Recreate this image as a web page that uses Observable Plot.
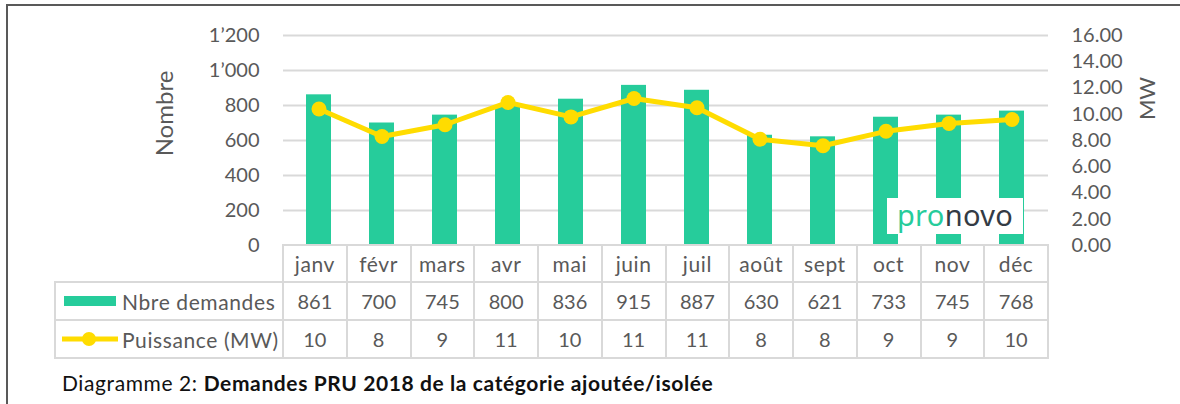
<!DOCTYPE html>
<html>
<head>
<meta charset="utf-8">
<script src="https://cdn.jsdelivr.net/npm/d3@7"></script>
<script src="https://cdn.jsdelivr.net/npm/@observablehq/plot@0.6"></script>
<style>
  html, body { margin: 0; padding: 0; background: #fff; }
  #wrap { position: relative; width: 1180px; height: 404px; overflow: hidden; font-family: Lato, "Open Sans", sans-serif; color: #595959; }
  #frameTop { position: absolute; left: 6px; top: 4px; width: 1174px; height: 2px; background: #595959; }
  #frameLeft { position: absolute; left: 6px; top: 4px; width: 2px; height: 400px; background: #595959; }
  #chart { position: absolute; left: 0; top: 0; }
  .cell { position: absolute; box-sizing: border-box; border: 2px solid #d9d9d9; display: flex; align-items: center; justify-content: center; font-size: 20px; color: #595959; background: #fff; white-space: nowrap; }
  .txt { font-size: 21px; letter-spacing: 0.6px; }
  .leg { justify-content: flex-start; }
  #logo { position: absolute; left: 887px; top: 198px; width: 136px; height: 36px; background: #fff; font-family: "Noto Sans", Lato, sans-serif; font-size: 29px; line-height: 34px; text-align: center; letter-spacing: 0.3px; }
  #caption { position: absolute; left: 62px; top: 370px; font-size: 21px; letter-spacing: 0.6px; color: #111; white-space: nowrap; }
</style>
</head>
<body>
<div id="wrap">
  <div id="frameTop"></div>
  <div id="frameLeft"></div>
  <div id="chart"></div>
</div>
<script>
// ---- data ----
const months = ["janv", "févr", "mars", "avr", "mai", "juin", "juil", "août", "sept", "oct", "nov", "déc"];
const demandes = [861, 700, 745, 800, 836, 915, 887, 630, 621, 733, 745, 768];
const puissance = [10.4, 8.3, 9.2, 10.9, 9.8, 11.2, 10.5, 8.1, 7.6, 8.7, 9.3, 9.6];
const puissanceTable = [10, 8, 9, 11, 10, 11, 11, 8, 8, 9, 9, 10];
const leftTicks = [0, 200, 400, 600, 800, 1000, 1200];
const rightTicks = [0, 2, 4, 6, 8, 10, 12, 14, 16];
const seriesNames = ["Nbre demandes", "Puissance (MW)"];
const axisTitles = ["Nombre", "MW"];
const captionNormal = "Diagramme 2: ";
const captionBold = "Demandes PRU 2018 de la catégorie ajoutée/isolée";

const barColor = "#26CC9B";
const lineColor = "#FFDC00";
const ratio = 1200 / 16; // secondary axis mapping

const data = months.map((m, i) => ({month: m, n: demandes[i], mw: puissance[i]}));

const fmtLeft = d => d >= 1000 ? `${Math.floor(d / 1000)}’${String(d % 1000).padStart(3, "0")}` : String(d);

const chart = Plot.plot({
  width: 1180,
  height: 247,
  marginTop: 35,
  marginBottom: 2,
  marginLeft: 283,
  marginRight: 132,
  x: {domain: months, paddingInner: 0.6, paddingOuter: 0.3, axis: null},
  y: {domain: [0, 1200], axis: null},
  style: {fontFamily: "Lato, 'Open Sans', sans-serif", fontSize: "20px", color: "#595959", background: "transparent", overflow: "visible"},
  marks: [
    Plot.gridY(leftTicks, {stroke: "#d9d9d9", strokeOpacity: 1, strokeWidth: 2}),
    Plot.axisY(leftTicks, {anchor: "left", tickSize: 0, tickPadding: 24, tickFormat: fmtLeft, label: null}),
    Plot.axisY(rightTicks.map(d => d * ratio), {anchor: "right", tickSize: 0, tickPadding: 23, tickFormat: d => (d / ratio).toFixed(2), label: null}),
    Plot.barY(data, {x: "month", y: "n", fill: barColor}),
    Plot.lineY(data, {x: "month", y: d => d.mw * ratio, stroke: lineColor, strokeWidth: 5}),
    Plot.dot(data, {x: "month", y: d => d.mw * ratio, r: 7.5, fill: lineColor}),
    Plot.text([axisTitles[0]], {frameAnchor: "left", textAnchor: "middle", dx: -118, dy: -27, rotate: -90, fontSize: 24, fill: "#595959"}),
    Plot.text([axisTitles[1]], {frameAnchor: "right", textAnchor: "middle", dx: 99, dy: -42, rotate: -90, fontSize: 22, fill: "#595959"})
  ]
});
document.getElementById("chart").appendChild(chart);

// ---- data table ----
const wrap = document.getElementById("wrap");
const x0 = 283, colW = (1048 - 283) / 12, legX = 55;
const rowY = [245, 282, 320, 358];
function cell(left, top, w, h, html, cls) {
  const d = document.createElement("div");
  d.className = "cell" + (cls ? " " + cls : "");
  d.style.left = (left - 1) + "px";
  d.style.top = (top - 1) + "px";
  d.style.width = (w + 2) + "px";
  d.style.height = (h + 2) + "px";
  d.innerHTML = html;
  wrap.appendChild(d);
  return d;
}
const rows = [months, demandes, puissanceTable];
rows.forEach((vals, r) => {
  vals.forEach((v, i) => {
    cell(x0 + i * colW, rowY[r], colW, rowY[r + 1] - rowY[r], String(v), r === 0 ? "txt" : "");
  });
});
const swatchBar = `<svg width="56" height="20" style="margin-left:6px;margin-right:4px;flex:none"><rect x="2" y="5" width="52" height="10" fill="${barColor}"/></svg>`;
const swatchLine = `<svg width="60" height="20" style="margin-left:4px;margin-right:2px;flex:none"><line x1="2" x2="58" y1="10" y2="10" stroke="${lineColor}" stroke-width="5"/><circle cx="29" cy="10" r="7" fill="${lineColor}"/></svg>`;
cell(legX, rowY[1], x0 - legX, rowY[2] - rowY[1], swatchBar + `<span>${seriesNames[0]}</span>`, "leg txt");
cell(legX, rowY[2], x0 - legX, rowY[3] - rowY[2], swatchLine + `<span>${seriesNames[1]}</span>`, "leg txt");

// ---- logo ----
const logo = document.createElement("div");
logo.id = "logo";
logo.innerHTML = `<span style="color:${barColor}">pro</span><span style="color:#333b45">novo</span>`;
wrap.appendChild(logo);

// ---- caption ----
const cap = document.createElement("div");
cap.id = "caption";
cap.innerHTML = `${captionNormal}<b>${captionBold}</b>`;
wrap.appendChild(cap);
</script>
</body>
</html>
